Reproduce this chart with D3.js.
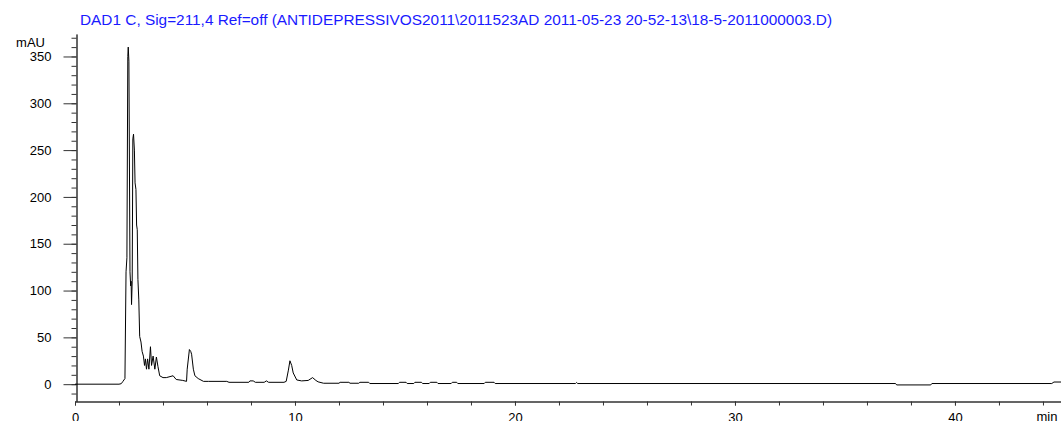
<!DOCTYPE html>
<html>
<head>
<meta charset="utf-8">
<script src="https://cdn.jsdelivr.net/npm/d3@7"></script>
<style>
  body { margin: 0; background: #fff; }
  svg { display: block; font-family: Arial, "Liberation Sans", sans-serif; }
</style>
</head>
<body>
<svg></svg>
<script>
// chromatogram: retention time (min) and signal (mAU)
var times = [0, 2.0, 2.1, 2.18, 2.27, 2.32, 2.36, 2.40, 2.42, 2.45, 2.50, 2.53, 2.55, 2.57, 2.60, 2.63, 2.66,
  2.70, 2.73, 2.77, 2.80, 2.83, 2.86, 2.90, 2.94, 3.0, 3.05, 3.11, 3.16, 3.2, 3.25, 3.3, 3.36, 3.43, 3.48,
  3.55, 3.63, 3.70, 3.77, 3.85, 4.0, 4.15, 4.46, 4.6, 4.9, 5.07, 5.1, 5.2, 5.26, 5.3, 5.38, 5.45, 5.6,
  5.84, 6.06, 6.9, 7.0, 7.9, 7.95, 8.1, 8.2, 8.6, 8.7, 8.8, 9.5, 9.6, 9.7, 9.77, 9.85, 9.92, 10.08, 10.3,
  10.6, 10.8, 10.95, 11.05, 11.3, 12.0, 12.05, 12.45, 12.5, 12.9, 12.95, 13.35, 13.4, 14.7, 14.75, 15.05,
  15.1, 15.4, 15.45, 15.75, 15.8, 16.1, 16.15, 16.45, 16.5, 17.1, 17.15, 17.35, 17.4, 18.6, 18.65, 19.05,
  19.1, 22.75, 22.8, 22.85, 37.3, 37.35, 38.9, 38.95, 44.4, 44.5, 44.82]
var mau = [0, 0, 0.5, 3, 6, 120, 135, 350, 360, 345, 120, 105, 110, 85, 110, 262, 267,
  250, 215, 208, 170, 165, 112, 90, 51, 45, 35, 30, 20, 27, 16, 27, 16, 40, 20,
  30, 16, 29, 19, 9, 7, 7, 9, 5, 4, 3, 16, 37, 35, 32, 16, 9, 6,
  3, 3, 3, 2, 2, 3.5, 3.5, 2, 2, 3.5, 2, 2, 3, 15, 25, 20, 12, 4.5, 3.5,
  4, 7, 4, 2.5, 1, 1, 2, 2, 1, 1, 2, 2, 0.7, 0.7, 2, 2,
  0.7, 0.7, 2, 2, 0.7, 0.7, 2, 2, 0.7, 0.7, 2, 2, 0.7, 0.7, 2, 2,
  0.7, 0.7, 1.8, 0.7, 0.7, -0.8, -0.8, 0.7, 0.7, 2.3, 2.3]

var yMajor = [0, 50, 100, 150, 200, 250, 300, 350]
var xMajor = [0, 10, 20, 30, 40]
var title = "DAD1 C, Sig=211,4 Ref=off (ANTIDEPRESSIVOS2011\\2011523AD 2011-05-23 20-52-13\\18-5-2011000003.D)"

var svg = d3.select("svg")
    .attr("width", 1061)
    .attr("height", 421)

var x = d3.scaleLinear().domain([0, 44.82]).range([75, 1061])
var y = d3.scaleLinear().domain([-18.5, 374]).range([401.5, 34])

// title
svg.append("text")
    .attr("x", 80)
    .attr("y", 25)
    .attr("fill", "#1a1aff")
    .attr("font-size", 14)
    .attr("textLength", 752)
    .attr("lengthAdjust", "spacingAndGlyphs")
    .text(title)

// y axis: minor every 10, major every 50
var yMinor = d3.range(-10, 371, 10)
svg.append("g")
    .attr("transform", "translate(76.5,0)")
    .call(d3.axisLeft(y).tickValues(yMinor).tickSize(5).tickSizeOuter(0).tickFormat(""))
svg.append("g")
    .attr("transform", "translate(76.5,0)")
    .call(d3.axisLeft(y).tickValues(yMajor).tickSize(13).tickPadding(12).tickSizeOuter(0))

svg.append("text")
    .attr("x", 45)
    .attr("y", 47)
    .attr("text-anchor", "end")
    .attr("font-size", 13)
    .text("mAU")

// x axis, ticks every 2 min
svg.append("g")
    .attr("transform", "translate(0,401.5)")
    .call(d3.axisBottom(x).tickValues(d3.range(0, 45, 2)).tickSize(4).tickSizeOuter(0).tickFormat(""))
svg.append("g")
    .attr("transform", "translate(0,401.5)")
    .call(d3.axisBottom(x).tickValues(xMajor).tickSize(4).tickPadding(7).tickSizeOuter(0))

svg.append("text")
    .attr("x", 1047)
    .attr("y", 421)
    .attr("text-anchor", "middle")
    .attr("font-size", 13)
    .text("min")

svg.selectAll(".tick text").attr("font-size", 13).attr("font-family", "Arial, 'Liberation Sans', sans-serif").attr("fill", "#000")
svg.selectAll(".domain, .tick line").attr("stroke", "#333")

// trace
var pts = times.map((t, i) => [t, mau[i]])
var line = d3.line().x(d => x(d[0])).y(d => y(d[1]))
svg.append("path")
    .datum(pts)
    .attr("fill", "none")
    .attr("stroke", "#000")
    .attr("stroke-width", 1)
    .attr("d", line)
</script>
</body>
</html>
